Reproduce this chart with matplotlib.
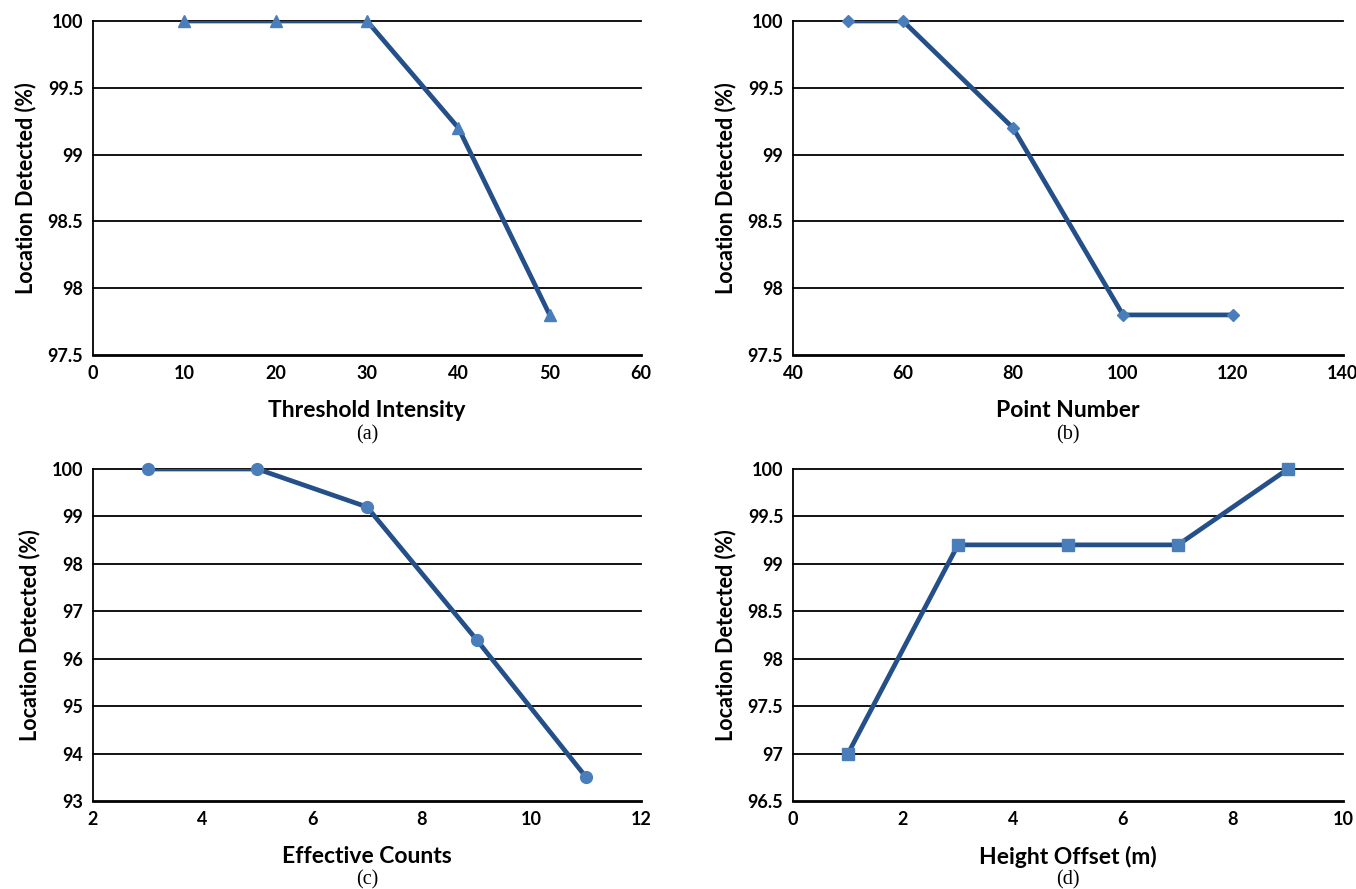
import matplotlib
matplotlib.use("Agg")
import matplotlib.pyplot as plt
import numpy as np

# ---- data ----
a_x = [10, 20, 30, 40, 50]
a_y = [100, 100, 100, 99.2, 97.8]
b_x = [50, 60, 80, 100, 120]
b_y = [100, 100, 99.2, 97.8, 97.8]
c_x = [3, 5, 7, 9, 11]
c_y = [100, 100, 99.2, 96.4, 93.5]
d_x = [1, 3, 5, 7, 9]
d_y = [97, 99.2, 99.2, 99.2, 100]

a_xticks = [0, 10, 20, 30, 40, 50, 60]
a_yticks = [97.5, 98, 98.5, 99, 99.5, 100]
b_xticks = [40, 60, 80, 100, 120, 140]
b_yticks = [97.5, 98, 98.5, 99, 99.5, 100]
c_xticks = [2, 4, 6, 8, 10, 12]
c_yticks = [93, 94, 95, 96, 97, 98, 99, 100]
d_xticks = [0, 2, 4, 6, 8, 10]
d_yticks = [96.5, 97, 97.5, 98, 98.5, 99, 99.5, 100]

xlabels = ["Threshold Intensity", "Point Number", "Effective Counts", "Height Offset (m)"]
ylabel = "Location Detected (%)"
captions = ["(a)", "(b)", "(c)", "(d)"]
markers = ["^", "D", "o", "s"]
msizes = [8.5, 6.5, 8.5, 8.5]

LINE = "#254F88"
MARK = "#4A7EBB"
FONT = "Lato"

W, H = 1356, 889
fig = plt.figure(figsize=(W / 100, H / 100), dpi=100)

def rect(l, t, r, b):
    return [l / W, 1 - b / H, (r - l) / W, (b - t) / H]

rects = [rect(93, 21, 641, 355), rect(793, 21, 1343, 355),
         rect(93, 469, 641, 801), rect(793, 469, 1343, 801)]
cap_y = [435, 435, 880, 880]

datasets = [(a_x, a_y, a_xticks, a_yticks), (b_x, b_y, b_xticks, b_yticks),
            (c_x, c_y, c_xticks, c_yticks), (d_x, d_y, d_xticks, d_yticks)]

for i, (xs, ys, xt, yt) in enumerate(datasets):
    ax = fig.add_axes(rects[i])
    ax.set_xlim(xt[0], xt[-1])
    ax.set_ylim(yt[0], yt[-1])
    for yv in yt[1:]:
        ax.axhline(yv, color="black", lw=1.3, zorder=1, clip_on=False)
    ax.plot(xs, ys, color=LINE, lw=3.4, zorder=3, solid_capstyle="butt")
    ax.plot(xs, ys, ls="none", marker=markers[i], ms=msizes[i],
            color=MARK, mec=MARK, zorder=4, clip_on=False)
    for s in ["top", "right"]:
        ax.spines[s].set_visible(False)
    ax.spines["left"].set_linewidth(1.3)
    ax.spines["bottom"].set_linewidth(2.0)
    ax.set_xticks(xt)
    ax.set_yticks(yt)
    ax.set_xticklabels([f"{v:g}" for v in xt], fontfamily=FONT, fontweight="bold", fontsize=13)
    ax.set_yticklabels([f"{v:g}" for v in yt], fontfamily=FONT, fontweight="bold", fontsize=13)
    ax.tick_params(length=0, pad=7)
    ax.set_xlabel(xlabels[i], fontfamily=FONT, fontweight="bold", fontsize=16.5, labelpad=13)
    ax.set_ylabel(ylabel, fontfamily=FONT, fontweight="bold", fontsize=15.5, labelpad=8)
    l, b, w, h = rects[i]
    fig.text(l + w / 2, 1 - cap_y[i] / H, captions[i], ha="center", va="center",
             fontfamily="Liberation Serif", fontsize=14.5)

fig.savefig("out.png", dpi=100)
